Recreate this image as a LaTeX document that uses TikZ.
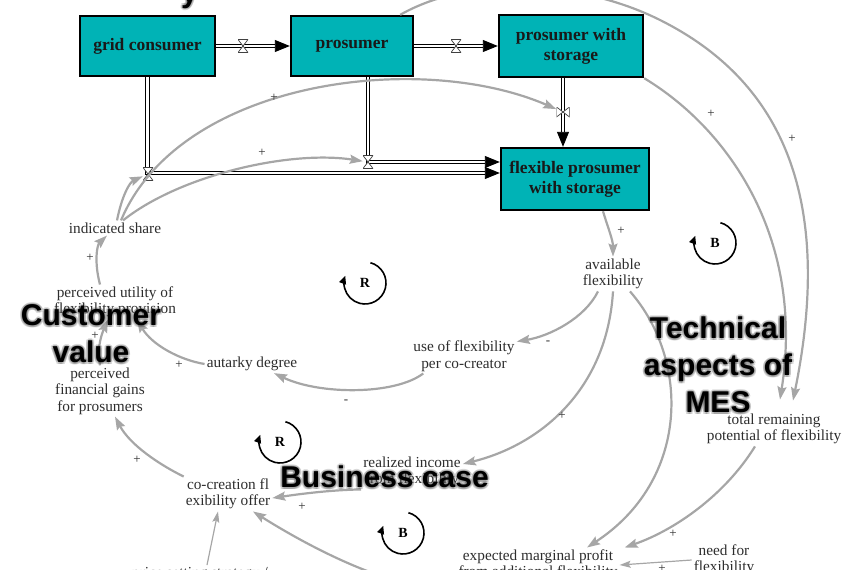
\documentclass[tikz,border=0pt]{standalone}
\usepackage{fontspec}
\setmainfont{Liberation Serif}
\newfontfamily\tagfont{Liberation Sans}
\usetikzlibrary{arrows.meta}
\definecolor{sTeal}{RGB}{0,179,182}
\definecolor{sGray}{RGB}{166,166,166}
\definecolor{sText}{RGB}{45,45,45}
\tikzset{
    stock/.style={draw=black, line width=2.4pt, fill=sTeal, inner sep=0pt, align=center,
        font=\bfseries\fontsize{17.5}{20}\selectfont, text=black!90},
    pipe/.style={draw=black, line width=0.9pt, double=white, double distance=2.4pt,
        -{Triangle[length=15pt,width=12pt]}},
    valve/.style={minimum width=10pt, minimum height=13pt, inner sep=0pt,
        path picture={\draw[draw=black!75, fill=white, line width=0.7pt]
            (path picture bounding box.north west) -- (path picture bounding box.north east)
            -- (path picture bounding box.south west) -- (path picture bounding box.south east) -- cycle;}},
    valveside/.style={minimum width=13pt, minimum height=10pt, inner sep=0pt,
        path picture={\draw[draw=black!75, fill=white, line width=0.7pt]
            (path picture bounding box.north west) -- (path picture bounding box.south west)
            -- (path picture bounding box.north east) -- (path picture bounding box.south east) -- cycle;}},
    var/.style={font=\fontsize{15.3}{16.5}\selectfont, text=sText, align=center, inner sep=2pt},
    link/.style={draw=sGray, line width=2.2pt, -{Stealth[length=13pt,width=9pt,inset=2pt]}},
    thinlink/.style={draw=sGray, line width=1.2pt, -{Stealth[length=11pt,width=7pt,inset=2pt]}},
    sign/.style={font=\fontsize{13}{13}\selectfont, text=sText, inner sep=0pt},
    looplab/.style={font=\bfseries\fontsize{14}{14}\selectfont, inner sep=0pt},
    loopar/.style={draw=black, line width=1.6pt, -{Triangle[length=8pt,width=7pt]}},
    area/.style={font=\tagfont\bfseries\fontsize{30}{37}\selectfont, align=center, inner sep=0pt, text=black},
    areashade/.style={area, text=black!70, opacity=0.2}
}

\begin{document}
\begin{tikzpicture}[x=1pt,y=-1pt]
\useasboundingbox (0,0) rectangle (855,581);
\clip (0,0) rectangle (855,569);

% stocks
\node[stock, minimum width=135pt, minimum height=60pt] (gc) at (147.5,46) {grid consumer};
\node[stock, minimum width=122pt, minimum height=60pt] (pr) at (352,46) {prosumer};
\node[stock, minimum width=144pt, minimum height=62pt] (psw) at (571,46) {prosumer with\\storage};
\node[stock, minimum width=148pt, minimum height=62pt] (fps) at (575,179) {flexible prosumer\\with storage};

% flows
\draw[pipe] (gc) -- (pr);
\draw[pipe] (pr) -- (psw);
\draw[pipe] ([xshift=-8pt]psw.south) -- ([xshift=-12pt]fps.north);
\draw[pipe] (gc.south) |- ([yshift=6pt]fps.west);
\draw[pipe] ([xshift=16pt]pr.south) |- ([yshift=17pt]fps.west);
\node[valve] (v1) at (243,46) {};
\node[valve] (v2) at (456,46) {};
\node[valveside] (v3) at (563,112) {};
\node[valve] (vg) at (148,174) {};
\node[valve] (vp) at (368,162) {};

% variables
\node[var] (is) at (115,228) {indicated share};
\node[var] (pu) at (115,302) {perceived utility of\\flexibility provision};
\node[var] (pf) at (100,391) {perceived\\financial gains\\for prosumers};
\node[var] (ad) at (252,364) {autarky degree};
\node[var] (uf) at (464,356) {use of flexibility\\per co-creator};
\node[var] (av) at (613,274) {available\\flexibility};
\node[var] (ri) at (412,472) {realized income\\from flexibility};
\node[var] (cc) at (228,494) {co-creation fl\\exibility offer};
\node[var] (tr) at (774,429) {total remaining\\potential of flexibility};
\node[var] (emp) at (538,565) {expected marginal profit\\from additional flexibility};
\node[var] (nd) at (724,560) {need for\\flexibility};
\node[var] (ps) at (200,574) {price setting strategy /};

% causal links
\draw[link] ([xshift=2pt]is.north) .. controls (122,195) and (130,182) .. (vg);
\draw[link] ([xshift=8pt]is.north) .. controls (180,175) and (290,150) .. (vp);
\draw[link] ([xshift=6pt]is.north) .. controls (180,80) and (420,50) .. (v3);
\draw[link] ([xshift=28pt]fps.south) .. controls (608,228) and (613,240) .. (av.north);
\draw[link] ([xshift=-15pt]av.south) .. controls (585,318) and (550,336) .. ([yshift=-3pt]uf.north east);
\draw[link] ([xshift=12pt]uf.south west) .. controls (395,395) and (320,395) .. ([xshift=22pt]ad.south);
\draw[link] (ad.west) .. controls (180,360) and (152,345) .. ([xshift=22pt]pu.south);
\draw[link] (pf.north) .. controls (97,352) and (100,338) .. ([xshift=-7pt]pu.south);
\draw[link] ([xshift=-15pt]pu.north) .. controls (94,262) and (97,245) .. ([xshift=-8pt]is.south);
\draw[link] ([xshift=-14pt]pr.north east) .. controls (470,-25) and (580,-20) .. (660,20)
    .. controls (760,70) and (840,170) .. ([xshift=19pt,yshift=11pt]tr.north);
\draw[link] (psw.south east) .. controls (730,130) and (805,240) .. ([xshift=6pt,yshift=12pt]tr.north);
\draw[link] (av.south) .. controls (607,390) and (540,445) .. ([yshift=8pt]ri.east);
\draw[link] ([xshift=17pt]av.south) .. controls (690,360) and (690,480) .. ([xshift=49pt]emp.north);
\draw[link] ([xshift=-19pt]tr.south) .. controls (725,495) and (675,530) .. ([xshift=5pt]emp.north east);
\draw[thinlink] (nd.west) -- (emp.east);
\draw[link] (ri.south west) .. controls (330,490) and (300,494) .. ([yshift=-4pt]cc.east);
\draw[link] (cc.north west) .. controls (160,465) and (130,445) .. ([xshift=15pt]pf.south);
\draw[thinlink] ([xshift=7pt]ps.north) -- ([xshift=-10pt]cc.south);
\draw[link] (emp.south west) .. controls (420,600) and (330,560) .. ([xshift=25pt]cc.south);

% polarities
\node[sign] (s1) at (274,98) {+};
\node[sign] (s2) at (262,153) {+};
\node[sign] (s3) at (711,114) {+};
\node[sign] (s4) at (792,139) {+};
\node[sign] (s5) at (621,231) {+};
\node[sign] (s6) at (548,343) {-};
\node[sign] (s7) at (346,402) {-};
\node[sign] (s8) at (179,365) {+};
\node[sign] (s9) at (95,336) {+};
\node[sign] (s10) at (90,258) {+};
\node[sign] (s11) at (562,416) {+};
\node[sign] (s12) at (137,460) {+};
\node[sign] (s13) at (302,507) {+};
\node[sign] (s14) at (673,534) {+};
\node[sign] (s15) at (662,569) {+};

% loops
\foreach \nm/\lt/\px/\py in {r1/R/365/283, b1/B/715/243, r2/R/280/442, b2/B/403/533} {
    \node[looplab] (\nm) at (\px,\py) {\lt};
    \draw[loopar] ([shift={(75:21pt)}]\nm.center) arc[start angle=75, end angle=-200, radius=21pt];
}

% area tags
\foreach \a in {0,45,...,315} {
    \node[areashade, shift={(\a:2pt)}] at (91,334) {Customer\\value};
    \node[areashade, shift={(\a:2pt)}] at (718,365) {Technical\\aspects of\\MES};
    \node[areashade, shift={(\a:2pt)}] at (384.5,477) {Business case};
    \node[areashade, shift={(\a:2pt)}, anchor=base west] at (181,2) {y};
}
\node[area] (cv) at (91,334) {Customer\\value};
\node[area] (ta) at (718,365) {Technical\\aspects of\\MES};
\node[area] (bc) at (384.5,477) {Business case};
\node[area, anchor=base west] (tt) at (181,2) {y};
\end{tikzpicture}
\end{document}
